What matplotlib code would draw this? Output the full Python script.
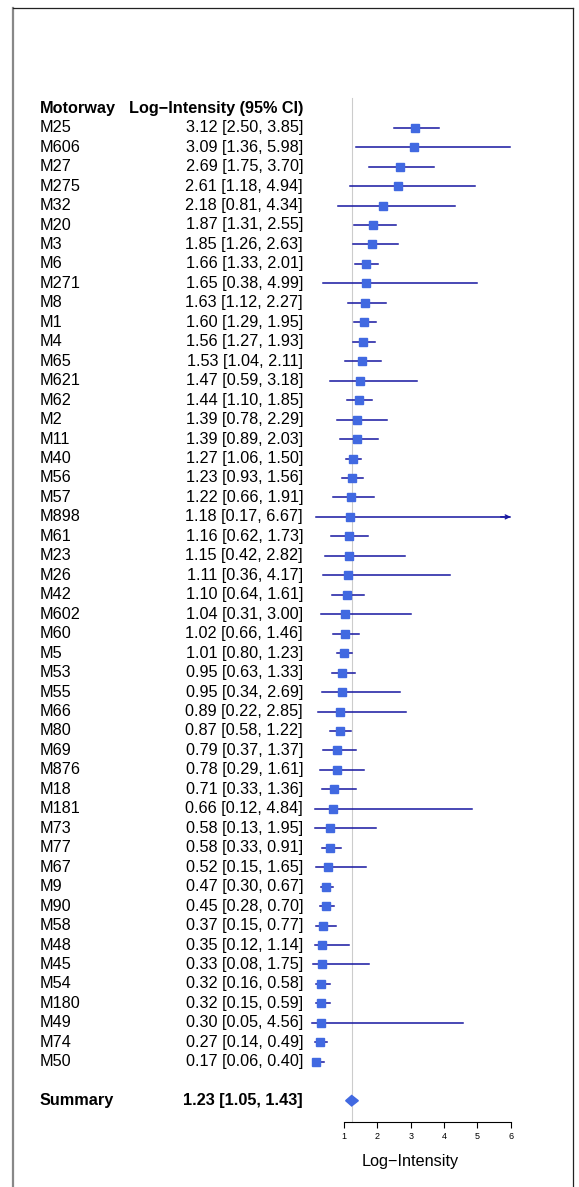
import matplotlib
matplotlib.use("Agg")
import matplotlib.pyplot as plt
from matplotlib.lines import Line2D
from matplotlib.patches import Polygon
from matplotlib.transforms import blended_transform_factory

plt.rcParams['font.family'] = ['Liberation Sans', 'DejaVu Sans']

# Dữ liệu
motorways = ["M25", "M606", "M27", "M275", "M32", "M20", "M3", "M6", "M271", "M8",
             "M1", "M4", "M65", "M621", "M62", "M2", "M11", "M40", "M56", "M57",
             "M898", "M61", "M23", "M26", "M42", "M602", "M60", "M5", "M53", "M55",
             "M66", "M80", "M69", "M876", "M18", "M181", "M73", "M77", "M67", "M9",
             "M90", "M58", "M48", "M45", "M54", "M180", "M49", "M74", "M50"]
est = [3.12, 3.09, 2.69, 2.61, 2.18, 1.87, 1.85, 1.66, 1.65, 1.63,
       1.60, 1.56, 1.53, 1.47, 1.44, 1.39, 1.39, 1.27, 1.23, 1.22,
       1.18, 1.16, 1.15, 1.11, 1.10, 1.04, 1.02, 1.01, 0.95, 0.95,
       0.89, 0.87, 0.79, 0.78, 0.71, 0.66, 0.58, 0.58, 0.52, 0.47,
       0.45, 0.37, 0.35, 0.33, 0.32, 0.32, 0.30, 0.27, 0.17]
lower = [2.50, 1.36, 1.75, 1.18, 0.81, 1.31, 1.26, 1.33, 0.38, 1.12,
         1.29, 1.27, 1.04, 0.59, 1.10, 0.78, 0.89, 1.06, 0.93, 0.66,
         0.17, 0.62, 0.42, 0.36, 0.64, 0.31, 0.66, 0.80, 0.63, 0.34,
         0.22, 0.58, 0.37, 0.29, 0.33, 0.12, 0.13, 0.33, 0.15, 0.30,
         0.28, 0.15, 0.12, 0.08, 0.16, 0.15, 0.05, 0.14, 0.06]
upper = [3.85, 5.98, 3.70, 4.94, 4.34, 2.55, 2.63, 2.01, 4.99, 2.27,
         1.95, 1.93, 2.11, 3.18, 1.85, 2.29, 2.03, 1.50, 1.56, 1.91,
         6.67, 1.73, 2.82, 4.17, 1.61, 3.00, 1.46, 1.23, 1.33, 2.69,
         2.85, 1.22, 1.37, 1.61, 1.36, 4.84, 1.95, 0.91, 1.65, 0.67,
         0.70, 0.77, 1.14, 1.75, 0.58, 0.59, 4.56, 0.49, 0.40]
summary_est, summary_lo, summary_hi = 1.23, 1.05, 1.43
xticks = [1, 2, 3, 4, 5, 6]

W, H = 579, 1187
box_col = "#4169E1"
line_col = "#1616A0"
fs = 11.7

fig = plt.figure(figsize=(W / 100, H / 100), dpi=100)

# trục: x 0..6.7 ↔ px 310.7..534, hàng: px = 127.7 + 19.46*i
row_h = 19.46
y0_px = 127.7
ylo, yhi = -6, 54
top_px = y0_px + ylo * row_h
bot_px = y0_px + yhi * row_h
x_left_px, x_right_px = 310.67, 534.0
ax = fig.add_axes([x_left_px / W, 1 - bot_px / H,
                   (x_right_px - x_left_px) / W, (bot_px - top_px) / H])
ax.set_xlim(0, 6.7)
ax.set_ylim(yhi, ylo)
ax.patch.set_alpha(0)

n = len(motorways)
rows = list(range(n))
sum_row = n + 1
axis_row = n + 2.1

# đường tham chiếu
ax.plot([summary_est, summary_est], [-1.55, axis_row], color="#cccccc", lw=0.8, zorder=1)

# khoảng tin cậy
for i in rows:
    if upper[i] > xticks[-1]:
        ax.plot([lower[i], xticks[-1] - 0.02], [i, i], color=line_col, lw=1.1, zorder=2)
        ax.annotate("", xy=(xticks[-1], i), xytext=(xticks[-1] - 0.3, i),
                    arrowprops=dict(arrowstyle="->", color=line_col, lw=1.0,
                                    mutation_scale=7, shrinkA=0, shrinkB=0))
    else:
        ax.plot([lower[i], upper[i]], [i, i], color=line_col, lw=1.1, zorder=2)
ax.plot(est, rows, "s", color=box_col, markersize=6.3, zorder=3)

# hình thoi tổng hợp
dh = 0.27
ax.add_patch(Polygon([(summary_lo, sum_row), (summary_est, sum_row - dh),
                      (summary_hi, sum_row), (summary_est, sum_row + dh)],
                     closed=True, color=box_col, zorder=3))

# trục x
for s in ["top", "left", "right"]:
    ax.spines[s].set_visible(False)
ax.spines["bottom"].set_position(("data", axis_row))
ax.spines["bottom"].set_bounds(xticks[0], xticks[-1])
ax.spines["bottom"].set_linewidth(0.8)
ax.set_xticks(xticks)
ax.set_xticklabels([str(t) for t in xticks], fontsize=6.5)
ax.tick_params(axis="x", length=4, width=0.8, pad=3)
ax.set_yticks([])
ax.text(3.0, axis_row + 2.0, "Log\u2212Intensity", ha="center", va="center", fontsize=fs)

# bảng chữ
tr = blended_transform_factory(fig.transFigure, ax.transData)
lab_x = 40 / W
val_x = 303 / W
ax.text(lab_x, -1, "Motorway", transform=tr, ha="left", va="center",
        fontsize=fs, fontweight="bold")
ax.text(val_x, -1, "Log\u2212Intensity (95% CI)", transform=tr, ha="right", va="center",
        fontsize=fs, fontweight="bold")
for i in rows:
    ax.text(lab_x, i, motorways[i], transform=tr, ha="left", va="center", fontsize=fs)
    ax.text(val_x, i, f"{est[i]:.2f} [{lower[i]:.2f}, {upper[i]:.2f}]", transform=tr,
            ha="right", va="center", fontsize=fs)
ax.text(lab_x, sum_row, "Summary", transform=tr, ha="left", va="center",
        fontsize=fs, fontweight="bold")
ax.text(val_x, sum_row, f"{summary_est:.2f} [{summary_lo:.2f}, {summary_hi:.2f}]",
        transform=tr, ha="right", va="center", fontsize=fs, fontweight="bold")

# khung ngoài
L, T, R = 12.5 / W, 1 - 7.5 / H, 573 / W
fig.add_artist(Line2D([L, L], [0, T], transform=fig.transFigure, color="#888888", lw=1.6))
fig.add_artist(Line2D([L, R], [T, T], transform=fig.transFigure, color="#222222", lw=0.9))
fig.add_artist(Line2D([R, R], [0, T], transform=fig.transFigure, color="#222222", lw=0.9))

fig.savefig("out.png", dpi=100)
